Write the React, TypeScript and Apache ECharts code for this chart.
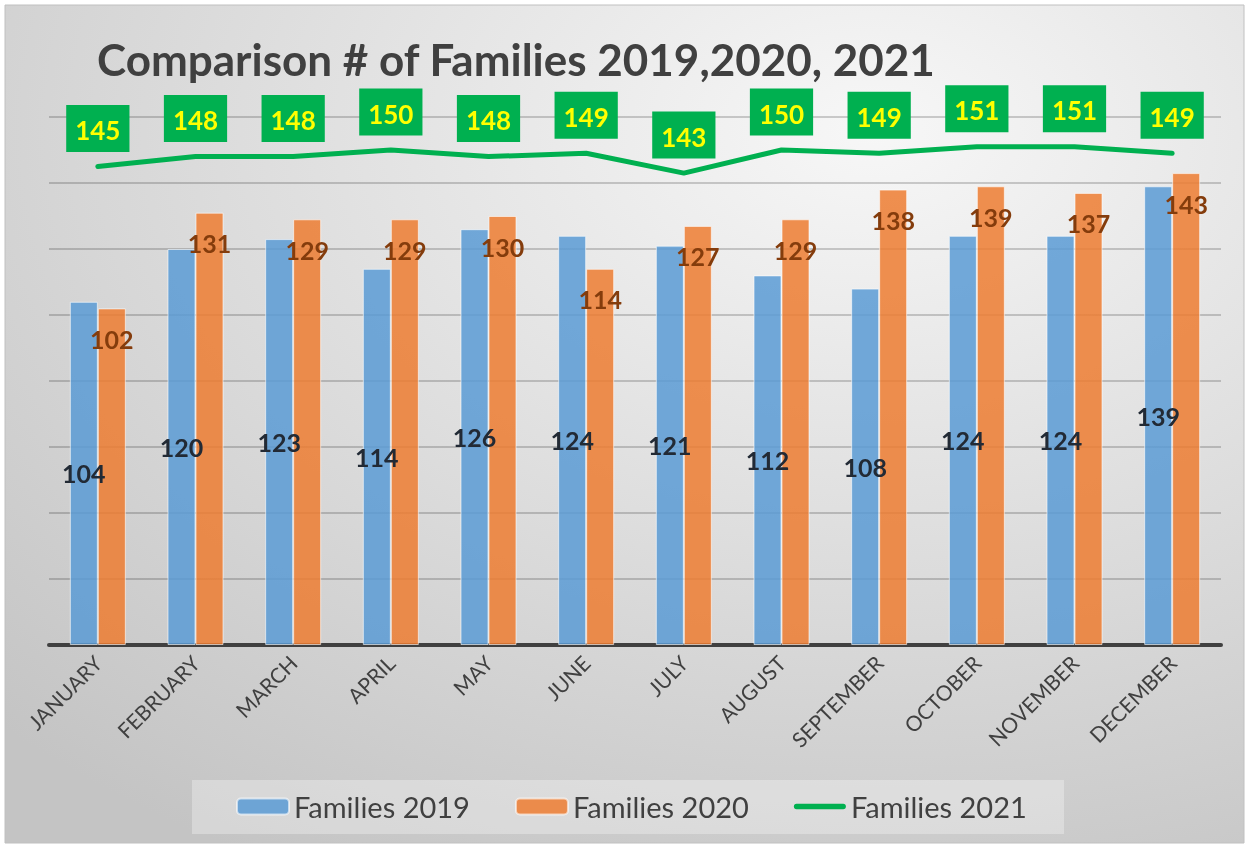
import React, { useEffect, useRef } from "react";
import * as echarts from "echarts";

const months = ["JANUARY", "FEBRUARY", "MARCH", "APRIL", "MAY", "JUNE", "JULY", "AUGUST", "SEPTEMBER", "OCTOBER", "NOVEMBER", "DECEMBER"];
const families2019 = [104, 120, 123, 114, 126, 124, 121, 112, 108, 124, 124, 139];
const families2020 = [102, 131, 129, 129, 130, 114, 127, 129, 138, 139, 137, 143];
const families2021 = [145, 148, 148, 150, 148, 149, 143, 150, 149, 151, 151, 149];

const FONT = "Lato, 'Open Sans', sans-serif";

export default function App() {
  const ref = useRef<HTMLDivElement>(null);
  useEffect(() => {
    if (!ref.current) return;
    const chart = echarts.init(ref.current, null, { renderer: "svg" });
    chart.setOption({
      animation: false,
      textStyle: { fontFamily: FONT },
      graphic: [
        {
          type: "rect",
          z: -10,
          silent: true,
          shape: { x: 5, y: 5, width: 1239, height: 838 },
          style: {
            fill: new echarts.graphic.RadialGradient(0.7, 0.15, 1.0, [
              { offset: 0, color: "#f7f7f7" },
              { offset: 1, color: "#c4c4c4" },
            ]),
            stroke: "#c0c0c0",
            lineWidth: 1,
          },
        },
        {
          type: "rect",
          z: -9,
          silent: true,
          shape: { x: 192, y: 780, width: 872, height: 54 },
          style: { fill: "rgba(255,255,255,0.3)" },
        },
      ],
      title: {
        text: "Comparison # of Families 2019,2020, 2021",
        left: 92,
        top: 32,
        textStyle: { fontFamily: FONT, fontSize: 44, fontWeight: "bold", color: "#404040" },
      },
      legend: {
        left: 236,
        top: 792,
        padding: 0,
        itemWidth: 52,
        itemHeight: 16,
        itemGap: 45,
        textStyle: { fontFamily: FONT, fontSize: 29, color: "#404040" },
        data: [
          { name: "Families 2019" },
          { name: "Families 2020" },
          { name: "Families 2021", icon: "path://M3,0 H55 A3,3 0 0 1 55,6 H3 A3,3 0 0 1 3,0 Z" },
        ],
      },
      grid: { left: 49, right: 28, top: 117, bottom: 203, containLabel: false },
      xAxis: {
        type: "category",
        data: months,
        axisLine: { lineStyle: { color: "#404040", width: 4 } },
        axisTick: { show: false },
        axisLabel: { rotate: 45, fontSize: 21, color: "#404040", margin: 14, interval: 0, fontFamily: FONT },
      },
      yAxis: {
        type: "value",
        min: 0,
        max: 160,
        interval: 20,
        axisLabel: { show: false },
        axisLine: { show: false },
        axisTick: { show: false },
        splitLine: { lineStyle: { color: "rgba(0,0,0,0.18)", width: 2 } },
      },
      series: [
        {
          name: "Families 2019",
          type: "bar",
          data: families2019,
          barWidth: 28,
          barGap: "0%",
          itemStyle: { color: "rgba(91,155,213,0.85)", borderColor: "rgba(255,255,255,0.6)", borderWidth: 1 },
          label: {
            show: true,
            position: "inside",
            fontSize: 25,
            fontWeight: "bold",
            color: "#222a35",
            fontFamily: FONT,
          },
        },
        {
          name: "Families 2020",
          type: "bar",
          data: families2020,
          barWidth: 28,
          itemStyle: { color: "rgba(237,125,49,0.85)", borderColor: "rgba(255,255,255,0.6)", borderWidth: 1 },
          label: {
            show: true,
            position: "insideTop",
            distance: 18,
            fontSize: 25,
            fontWeight: "bold",
            color: "#843c0c",
            fontFamily: FONT,
          },
        },
        {
          name: "Families 2021",
          type: "line",
          data: families2021,
          symbol: "circle",
          symbolSize: 1,
          showSymbol: true,
          lineStyle: { color: "#00b050", width: 5, cap: "round", join: "round" },
          itemStyle: { color: "#00b050" },
          label: {
            show: true,
            position: "top",
            distance: 14,
            fontSize: 26,
            lineHeight: 26,
            fontWeight: "bold",
            color: "#ffff00",
            backgroundColor: "#00b050",
            padding: [12, 9, 9, 9],
            fontFamily: FONT,
          },
        },
      ],
    });
    return () => chart.dispose();
  }, []);
  return <div ref={ref} style={{ position: "fixed", left: 0, top: 0, width: 1249, height: 848 }} />;
}
